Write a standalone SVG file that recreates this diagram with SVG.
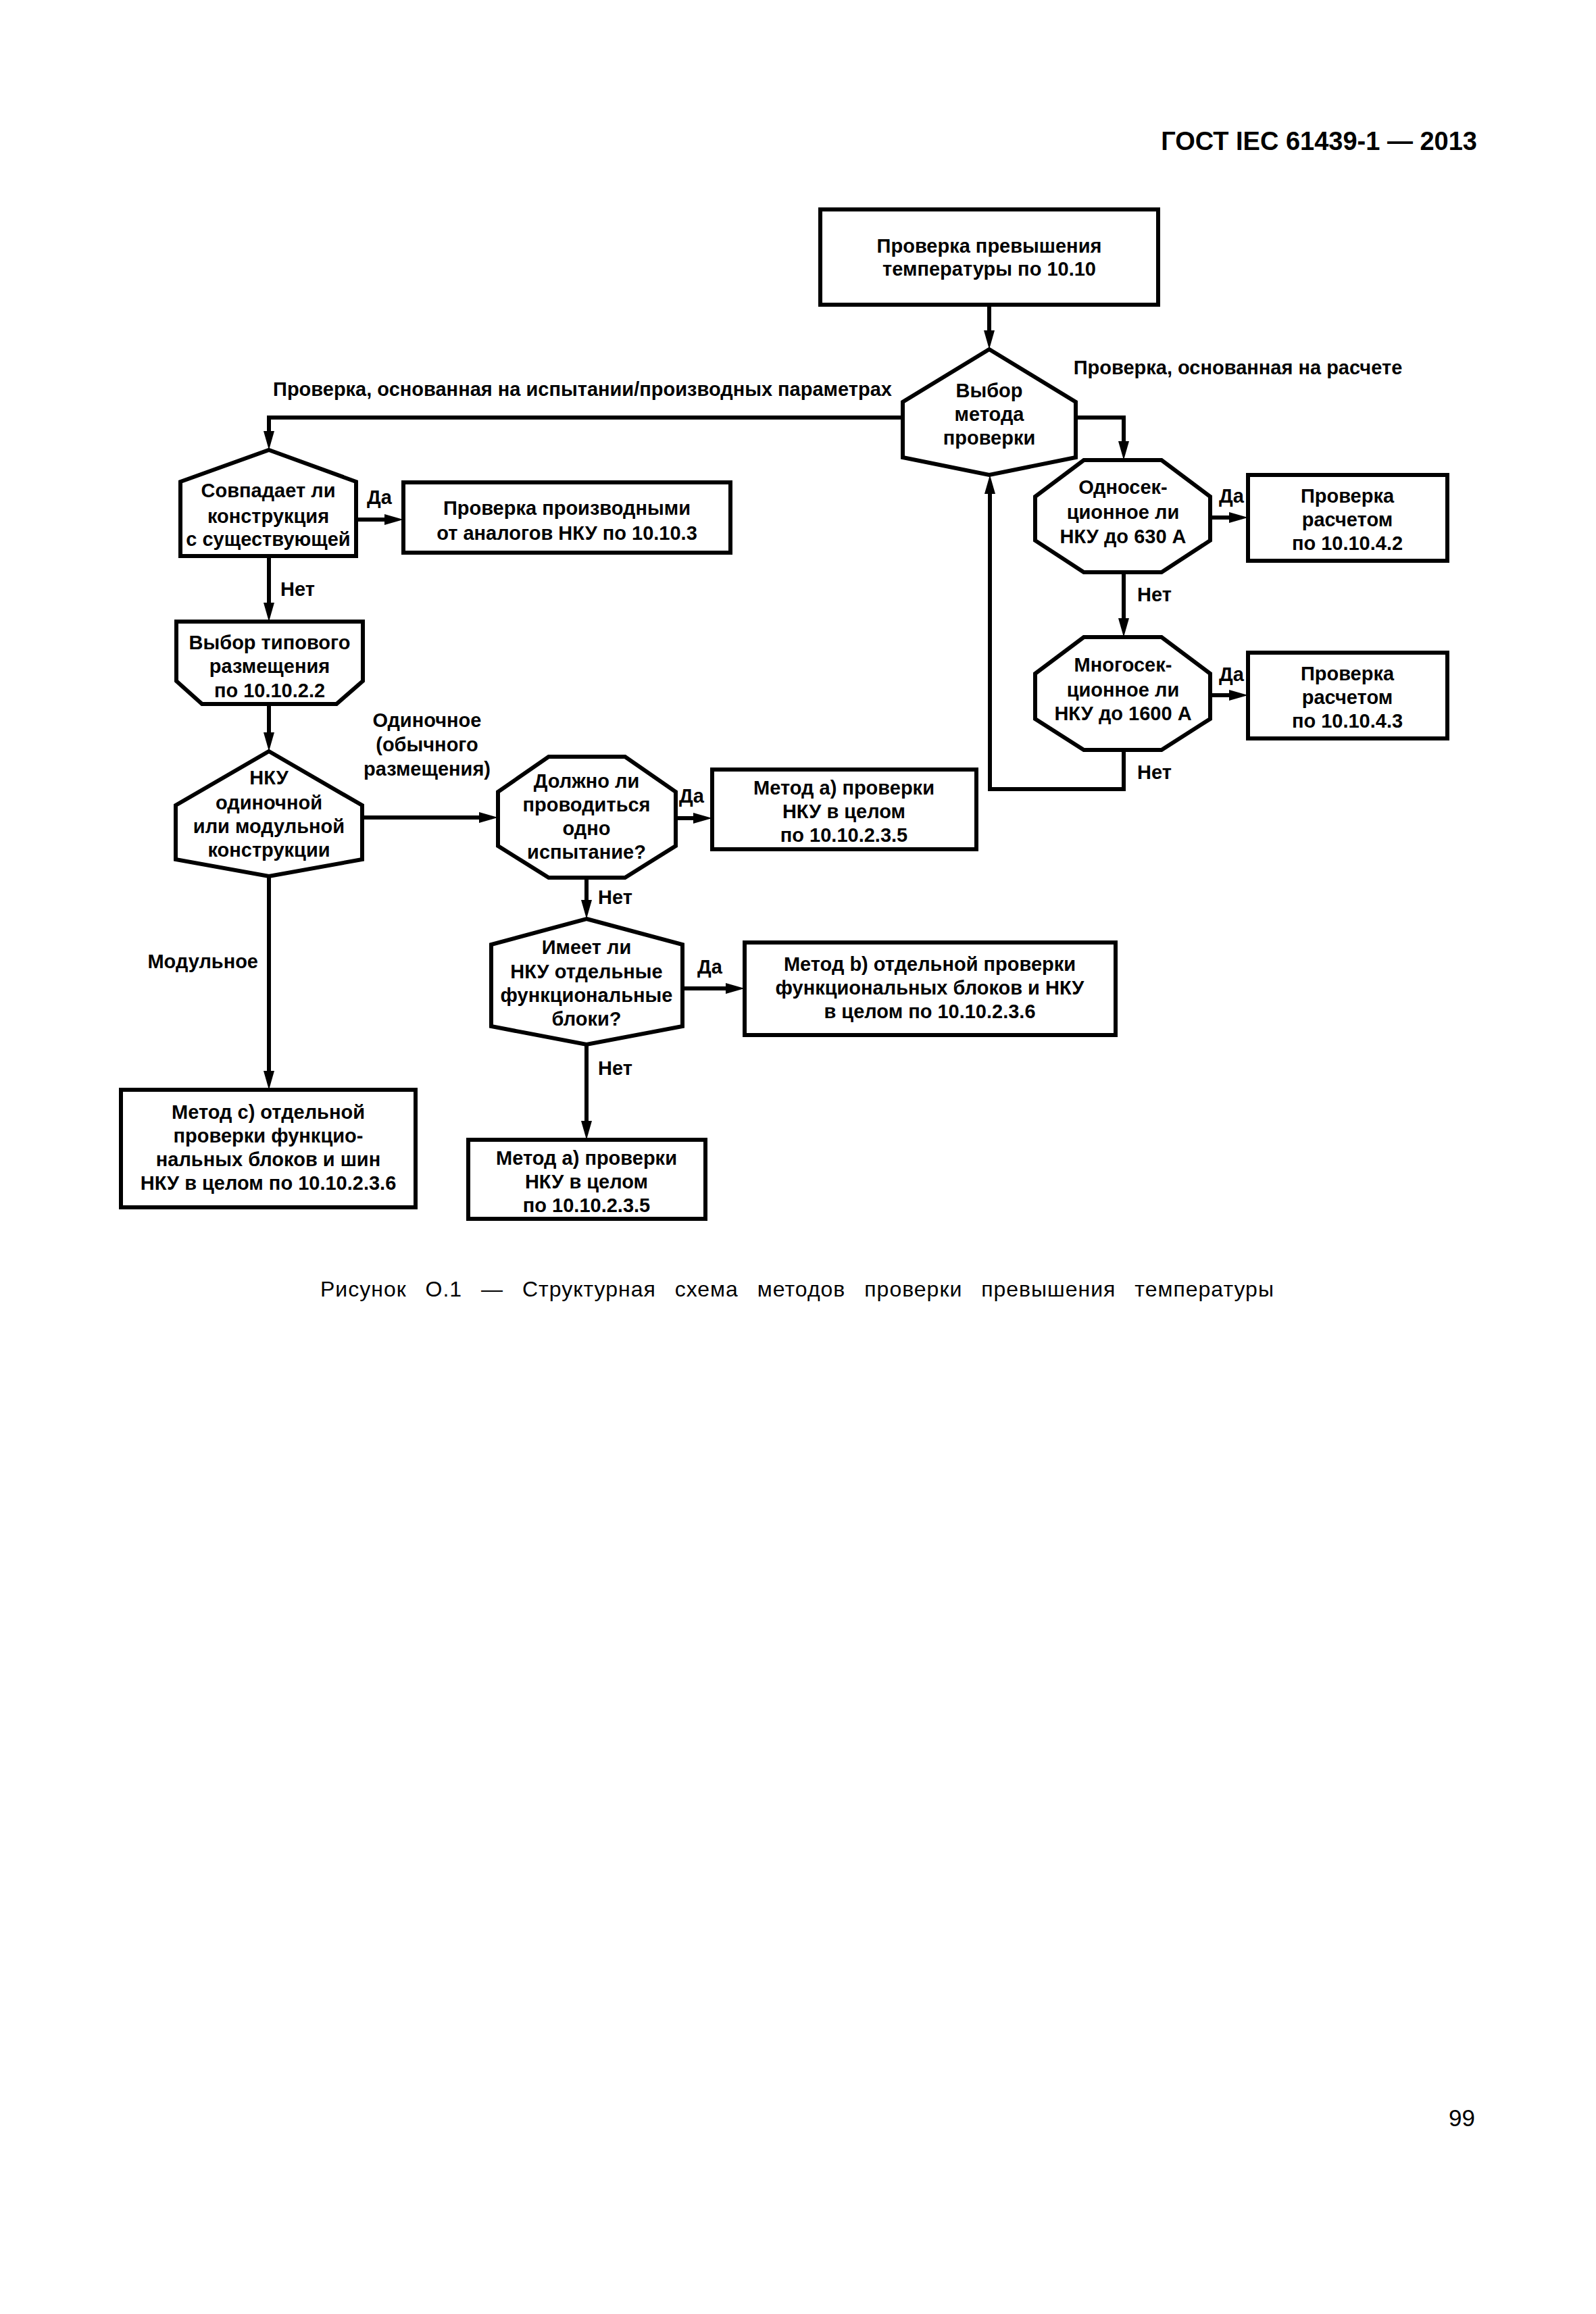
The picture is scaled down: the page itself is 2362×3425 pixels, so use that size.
<svg xmlns="http://www.w3.org/2000/svg" width="2362" height="3425" viewBox="0 0 2362 3425">
<style>
.bg{fill:#ffffff}
.n{fill:#ffffff;stroke:#000000;stroke-width:6;stroke-linejoin:miter}
.c{fill:none;stroke:#000000;stroke-width:6;stroke-linejoin:miter}
.t{font-family:"Liberation Sans",Arial,sans-serif;font-weight:bold;font-size:29px;fill:#000000;text-anchor:middle}
.l{font-family:"Liberation Sans",Arial,sans-serif;font-weight:bold;font-size:29px;fill:#000000}
.hdr{font-family:"Liberation Sans",Arial,sans-serif;font-weight:bold;font-size:38px;fill:#000000;text-anchor:end}
.cap{font-family:"Liberation Sans",Arial,sans-serif;font-size:32px;fill:#000000;letter-spacing:1px;word-spacing:18px}
.pg{font-family:"Liberation Sans",Arial,sans-serif;font-size:35px;fill:#000000;text-anchor:end}
</style>
<defs>
<marker id="arr" markerUnits="userSpaceOnUse" markerWidth="28" markerHeight="16" refX="8" refY="8" orient="auto">
<path d="M0,0 L28,8 L0,16 Z" fill="#000000"/>
</marker>
</defs>
<rect class="bg" x="0" y="0" width="2362" height="3425"/>
<text class="hdr" x="2186" y="222">ГОСТ IEC 61439-1 — 2013</text>

<g id="connectors">
<path class="c" d="M1464,451 V497" marker-end="url(#arr)"/>
<path class="c" d="M1336,618 H398 V646" marker-end="url(#arr)"/>
<path class="c" d="M1592,618 H1663 V661" marker-end="url(#arr)"/>
<path class="c" d="M1791,766 H1827" marker-end="url(#arr)"/>
<path class="c" d="M1663,847 V923" marker-end="url(#arr)"/>
<path class="c" d="M1791,1029 H1827" marker-end="url(#arr)"/>
<path class="c" d="M1663,1110 V1168 H1465 V723" marker-end="url(#arr)"/>
<path class="c" d="M527,769 H577" marker-end="url(#arr)"/>
<path class="c" d="M398,823 V900" marker-end="url(#arr)"/>
<path class="c" d="M398,1042 V1092" marker-end="url(#arr)"/>
<path class="c" d="M536,1210 H717" marker-end="url(#arr)"/>
<path class="c" d="M398,1297 V1593" marker-end="url(#arr)"/>
<path class="c" d="M1000,1211 H1034" marker-end="url(#arr)"/>
<path class="c" d="M868,1299 V1340" marker-end="url(#arr)"/>
<path class="c" d="M1010,1463 H1082" marker-end="url(#arr)"/>
<path class="c" d="M868,1546 V1667" marker-end="url(#arr)"/>
<text class="l" x="862" y="586" text-anchor="middle">Проверка, основанная на испытании/производных параметрах</text>
<text class="l" x="1832" y="554" text-anchor="middle">Проверка, основанная на расчете</text>
<text class="l" x="1804" y="744">Да</text>
<text class="l" x="1683" y="890">Нет</text>
<text class="l" x="1804" y="1008">Да</text>
<text class="l" x="1683" y="1153">Нет</text>
<text class="l" x="543" y="746">Да</text>
<text class="l" x="415" y="882">Нет</text>
<text class="l" x="632" y="1076" text-anchor="middle">Одиночное</text>
<text class="l" x="632" y="1112" text-anchor="middle">(обычного</text>
<text class="l" x="632" y="1148" text-anchor="middle">размещения)</text>
<text class="l" x="382" y="1433" text-anchor="end">Модульное</text>
<text class="l" x="1005" y="1188">Да</text>
<text class="l" x="885" y="1338">Нет</text>
<text class="l" x="1032" y="1441">Да</text>
<text class="l" x="885" y="1591">Нет</text>
</g>

<g id="start">
<rect class="n" x="1214" y="310" width="500" height="141"/>
<text class="t" x="1464" y="374">Проверка превышения</text>
<text class="t" x="1464" y="408">температуры по 10.10</text>
</g>

<g id="method">
<polygon class="n" points="1464,517 1592,595 1592,677 1464,703 1336,677 1336,595"/>
<text class="t" x="1464" y="588">Выбор</text>
<text class="t" x="1464" y="623">метода</text>
<text class="t" x="1464" y="658">проверки</text>
</g>

<g id="single630">
<polygon class="n" points="1604,681 1719,681 1791,735 1791,800 1719,847 1604,847 1532,800 1532,735"/>
<text class="t" x="1662" y="731">Односек-</text>
<text class="t" x="1662" y="768">ционное ли</text>
<text class="t" x="1662" y="804">НКУ до 630 А</text>
</g>

<g id="calc1042">
<rect class="n" x="1847" y="703" width="295" height="127"/>
<text class="t" x="1994" y="744">Проверка</text>
<text class="t" x="1994" y="779">расчетом</text>
<text class="t" x="1994" y="814">по 10.10.4.2</text>
</g>

<g id="multi1600">
<polygon class="n" points="1604,943 1719,943 1791,997 1791,1064 1719,1110 1604,1110 1532,1064 1532,997"/>
<text class="t" x="1662" y="994">Многосек-</text>
<text class="t" x="1662" y="1031">ционное ли</text>
<text class="t" x="1662" y="1066">НКУ до 1600 А</text>
</g>

<g id="calc1043">
<rect class="n" x="1847" y="966" width="295" height="127"/>
<text class="t" x="1994" y="1007">Проверка</text>
<text class="t" x="1994" y="1042">расчетом</text>
<text class="t" x="1994" y="1077">по 10.10.4.3</text>
</g>

<g id="matches">
<polygon class="n" points="398,666 527,713 527,823 267,823 267,713"/>
<text class="t" x="397" y="736">Совпадает ли</text>
<text class="t" x="397" y="774">конструкция</text>
<text class="t" x="397" y="808">с существующей</text>
</g>

<g id="derived">
<rect class="n" x="597" y="714" width="484" height="104"/>
<text class="t" x="839" y="762">Проверка производными</text>
<text class="t" x="839" y="799">от аналогов НКУ по 10.10.3</text>
</g>

<g id="typical">
<polygon class="n" points="261,920 537,920 537,1008 498,1042 299,1042 261,1008"/>
<text class="t" x="399" y="961">Выбор типового</text>
<text class="t" x="399" y="996">размещения</text>
<text class="t" x="399" y="1032">по 10.10.2.2</text>
</g>

<g id="construction">
<polygon class="n" points="398,1112 536,1192 536,1272 398,1297 260,1272 260,1192"/>
<text class="t" x="398" y="1161">НКУ</text>
<text class="t" x="398" y="1198">одиночной</text>
<text class="t" x="398" y="1233">или модульной</text>
<text class="t" x="398" y="1268">конструкции</text>
</g>

<g id="onetest">
<polygon class="n" points="812,1120 925,1120 1000,1172 1000,1252 925,1299 812,1299 737,1252 737,1172"/>
<text class="t" x="868" y="1166">Должно ли</text>
<text class="t" x="868" y="1201">проводиться</text>
<text class="t" x="868" y="1236">одно</text>
<text class="t" x="868" y="1271">испытание?</text>
</g>

<g id="methodA1">
<rect class="n" x="1054" y="1139" width="391" height="118"/>
<text class="t" x="1249" y="1176">Метод а) проверки</text>
<text class="t" x="1249" y="1211">НКУ в целом</text>
<text class="t" x="1249" y="1246">по 10.10.2.3.5</text>
</g>

<g id="blocks">
<polygon class="n" points="868,1360 1010,1398 1010,1519 868,1546 727,1519 727,1398"/>
<text class="t" x="868" y="1412">Имеет ли</text>
<text class="t" x="868" y="1448">НКУ отдельные</text>
<text class="t" x="868" y="1483">функциональные</text>
<text class="t" x="868" y="1518">блоки?</text>
</g>

<g id="methodB">
<rect class="n" x="1102" y="1395" width="549" height="137"/>
<text class="t" x="1376" y="1437">Метод b) отдельной проверки</text>
<text class="t" x="1376" y="1472">функциональных блоков и НКУ</text>
<text class="t" x="1376" y="1507">в целом по 10.10.2.3.6</text>
</g>

<g id="methodA2">
<rect class="n" x="693" y="1687" width="351" height="117"/>
<text class="t" x="868" y="1724">Метод а) проверки</text>
<text class="t" x="868" y="1759">НКУ в целом</text>
<text class="t" x="868" y="1794">по 10.10.2.3.5</text>
</g>

<g id="methodC">
<rect class="n" x="179" y="1613" width="436" height="174"/>
<text class="t" x="397" y="1656">Метод с) отдельной</text>
<text class="t" x="397" y="1691">проверки функцио-</text>
<text class="t" x="397" y="1726">нальных блоков и шин</text>
<text class="t" x="397" y="1761">НКУ в целом по 10.10.2.3.6</text>
</g>

<text class="cap" x="474" y="1919">Рисунок О.1 — Структурная схема методов проверки превышения температуры</text>
<text class="pg" x="2183" y="3147">99</text>
</svg>
